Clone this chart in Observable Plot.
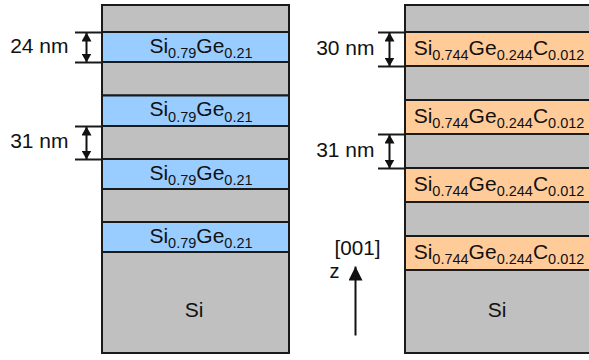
<!DOCTYPE html>
<html><head><meta charset="utf-8">
<script src="https://cdn.jsdelivr.net/npm/d3@7"></script>
<script src="https://cdn.jsdelivr.net/npm/@observablehq/plot@0.6"></script>
<style>body{margin:0;background:#fff} svg{display:block}</style>
</head><body><div id="chart"></div>
<script>
// ---- Data ----
const materials = ["Si", "SiGe", "SiGeC"];
const materialColors = ["#c0c0c0", "#99ccff", "#ffcc99"];
const leftLayerMaterials = ["Si", "SiGe", "Si", "SiGe", "Si", "SiGe", "Si", "SiGe", "Si"];
const leftLayerHeights = [27, 30, 33.5, 30.5, 33, 30, 33, 30, 101]; // drawn thickness (not to scale)
const rightLayerMaterials = ["Si", "SiGeC", "Si", "SiGeC", "Si", "SiGeC", "Si", "SiGeC", "Si"];
const rightLayerHeights = [27, 34, 34, 34, 34, 34, 34, 34, 83];
const leftAlloyLabel = "Si_{0.79}Ge_{0.21}";
const rightAlloyLabel = "Si_{0.744}Ge_{0.244}C_{0.012}";
const substrateLabel = "Si";
const leftDimLayers = [1, 4];
const leftDimLabels = ["24 nm", "31 nm"];
const rightDimLayers = [1, 4];
const rightDimLabels = ["30 nm", "31 nm"];
const directionLabel = "[001]";
const axisLabel = "z";

// ---- Layout ----
const W = 589, H = 360;
const stackTop = 5;
const stacks = [
  {x1: 102, x2: 289, mats: leftLayerMaterials, hs: leftLayerHeights, alloy: leftAlloyLabel, alloyDx: 5,
   dimLayers: leftDimLayers, dimLabels: leftDimLabels, labelGap: 34},
  {x1: 405, x2: 592, mats: rightLayerMaterials, hs: rightLayerHeights, alloy: rightAlloyLabel, alloyDx: 0,
   dimLayers: rightDimLayers, dimLabels: rightDimLabels, labelGap: 31}
];

const layers = [], alloyRows = [], substrateRows = [], dims = [], extLines = [];
for (const s of stacks) {
  let y = stackTop;
  const bounds = [];
  s.hs.forEach((h, i) => {
    const row = {x1: s.x1, x2: s.x2, y1: y, y2: y + h, material: s.mats[i]};
    layers.push(row);
    bounds.push(row);
    if (s.mats[i] !== "Si") alloyRows.push({x: (s.x1 + s.x2) / 2 + s.alloyDx, y: y + h / 2, text: s.alloy});
    y += h;
  });
  const last = bounds[bounds.length - 1];
  substrateRows.push({x: (s.x1 + s.x2) / 2 - 2, y: last.y2 - 43, text: substrateLabel});
  s.dimLayers.forEach((li, k) => {
    const b = bounds[li];
    dims.push({x: s.x1 - 16, y1: b.y1, y2: b.y2, lx: s.x1 - s.labelGap, ly: (b.y1 + b.y2) / 2, text: s.dimLabels[k]});
    extLines.push({y: b.y1, x1: s.x1 - 27, x2: s.x1});
    extLines.push({y: b.y2, x1: s.x1 - 27, x2: s.x1});
  });
}
const dirArrow = [{x: 355, y1: 335, y2: 266}];
const dirLabels = [{x: 357, y: 247.5, text: directionLabel}];
const zLabels = [{x: 334, y: 271, text: axisLabel}];

const font = "'Liberation Sans', Arial, Helvetica, sans-serif";
const ink = "#111";

const svg = Plot.plot({
  width: W, height: H, margin: 0,
  x: {domain: [0, W], range: [0, W], axis: null},
  y: {domain: [0, H], range: [0, H], axis: null},
  color: {domain: materials, range: materialColors},
  style: {fontFamily: font, background: "white"},
  marks: [
    /*0*/ Plot.rect(layers, {x1: "x1", x2: "x2", y1: "y1", y2: "y2", fill: "material", stroke: "#1a1a1a", strokeWidth: 2}),
    /*1*/ Plot.text(alloyRows, {x: "x", y: "y", text: "text", fontSize: 21, fill: ink, dy: -1.7}),
    /*2*/ Plot.text(substrateRows, {x: "x", y: "y", text: "text", fontSize: 21, fill: ink}),
    /*3*/ Plot.ruleY(extLines, {y: "y", x1: "x1", x2: "x2", stroke: "#1a1a1a", strokeWidth: 2}),
    /*4*/ Plot.link(dims, {x1: "x", x2: "x", y1: "y1", y2: "y2", stroke: ink, strokeWidth: 2}),
    /*5*/ Plot.text(dims, {x: "lx", y: "ly", text: "text", textAnchor: "end", fontSize: 21, fill: ink, dy: -1.7}),
    /*6*/ Plot.link(dirArrow, {x1: "x", x2: "x", y1: "y1", y2: "y2", stroke: ink, strokeWidth: 2}),
    /*7*/ Plot.text(dirLabels, {x: "x", y: "y", text: "text", fontSize: 21, fill: ink}),
    /*8*/ Plot.text(zLabels, {x: "x", y: "y", text: "text", fontSize: 20, fill: ink})
  ]
});

const groups = Array.from(svg.children).filter(n => n.tagName.toLowerCase() === "g");

// markers
const NS = "http://www.w3.org/2000/svg";
const defs = d3.select(svg).insert("defs", ":first-child");
function marker(id, len, wid) {
  defs.append("marker").attr("id", id).attr("viewBox", "0 0 10 10").attr("refX", 10).attr("refY", 5)
    .attr("markerWidth", len).attr("markerHeight", wid).attr("markerUnits", "userSpaceOnUse")
    .attr("preserveAspectRatio", "none").attr("orient", "auto-start-reverse")
    .append("path").attr("d", "M0,0L10,5L0,10Z").attr("fill", ink);
}
marker("headSmall", 9, 10);
marker("headBig", 14, 14);
d3.select(groups[4]).selectAll("path, line")
  .attr("marker-start", "url(#headSmall)").attr("marker-end", "url(#headSmall)");
d3.select(groups[6]).selectAll("path, line")
  .attr("marker-end", "url(#headBig)");

// subscripts
function richText(el, subSize, shift) {
  const s = el.textContent;
  el.textContent = "";
  const parts = s.split(/(_\{[^}]*\})/).filter(p => p);
  let sub = false;
  for (const p of parts) {
    const t = document.createElementNS(NS, "tspan");
    if (p.startsWith("_{")) {
      t.textContent = p.slice(2, -1);
      t.setAttribute("font-size", subSize);
      t.setAttribute("dy", shift);
      sub = true;
    } else {
      t.textContent = p;
      if (sub) t.setAttribute("dy", -shift);
      sub = false;
    }
    el.appendChild(t);
  }
}
groups[1].querySelectorAll("text").forEach(el => richText(el, 14.5, 5.5));
groups[7].querySelectorAll("text").forEach(el => {
  el.setAttribute("textLength", 46);
  el.setAttribute("lengthAdjust", "spacingAndGlyphs");
});

document.getElementById("chart").appendChild(svg);
</script>
</body></html>
